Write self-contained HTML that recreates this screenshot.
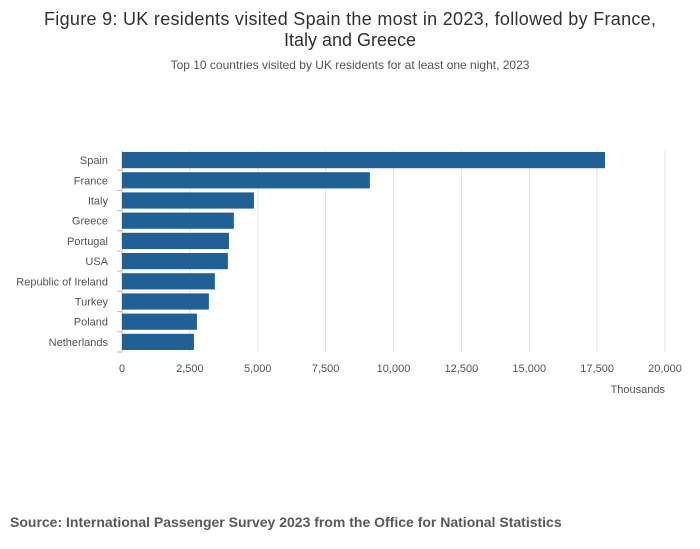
<!DOCTYPE html>
<html><head><meta charset="utf-8">
<style>
body{margin:0;background:#fff;font-family:"Liberation Sans",sans-serif;}
#wrap{position:relative;width:700px;height:549px;overflow:hidden;}
</style></head>
<body>
<div id="wrap">
<svg id="chart" width="700" height="549" xmlns="http://www.w3.org/2000/svg">
<text x="350" y="25" text-anchor="middle" font-size="18" fill="#323132" textLength="612">Figure 9: UK residents visited Spain the most in 2023, followed by France,</text>
<text x="350" y="46" text-anchor="middle" font-size="18" fill="#323132">Italy and Greece</text>
<text x="350" y="69" text-anchor="middle" font-size="12" fill="#555">Top 10 countries visited by UK residents for at least one night, 2023</text>
<g id="grid"></g>
<g id="bars"></g>
<g id="ylabels"></g>
<g id="xlabels"></g>
<text x="665" y="393" text-anchor="end" font-size="11" fill="#555">Thousands</text>
<text x="10" y="527" font-size="14" font-weight="bold" fill="#595959">Source: International Passenger Survey 2023 from the Office for National Statistics</text>
</svg>
</div>
<script>
const categories=["Spain","France","Italy","Greece","Portugal","USA","Republic of Ireland","Turkey","Poland","Netherlands"];
const values=[17790,9130,4860,4120,3940,3900,3420,3200,2760,2650];
const ticks=[0,2500,5000,7500,10000,12500,15000,17500,20000];
const tickLabels=["0","2,500","5,000","7,500","10,000","12,500","15,000","17,500","20,000"];
const NS="http://www.w3.org/2000/svg";
const x0=122,x1=665,plotTop=150,band=20.2;
function xs(v){return x0+(v/20000)*(x1-x0);}
function yb(i){return plotTop+i*band;}
function mk(tag,attrs,parent){const e=document.createElementNS(NS,tag);for(const k in attrs)e.setAttribute(k,attrs[k]);document.getElementById(parent).appendChild(e);return e;}
ticks.forEach((t,i)=>{
  if(i>0){const l=mk('line',{x1:xs(t),x2:xs(t),y1:plotTop,y2:plotTop+10*band,stroke:'#e2e2e2','stroke-width':1},'grid');
  
  }
  const tx=mk('text',{x:xs(t),y:372,'text-anchor':'middle','font-size':11,fill:'#555'},'xlabels');
  tx.textContent=tickLabels[i];
  
  
});
const ax=mk('line',{x1:x0,x2:x0,y1:plotTop,y2:plotTop+10*band,stroke:'#bbb','stroke-width':1},'grid');


categories.forEach((c,i)=>{
  const r=mk('rect',{x:x0,y:yb(i)+2,width:xs(values[i])-x0,height:band-4,fill:'#206095'},'bars');
  
  
  const tk=mk('line',{x1:x0-5,x2:x0,y1:yb(i)+band,y2:yb(i)+band,stroke:'#bbb'},'grid');
  
  
  const t=mk('text',{x:108,y:yb(i)+band/2+4,'text-anchor':'end','font-size':11,fill:'#555'},'ylabels');
  t.textContent=c;
  
  
});
</script>
</body></html>
